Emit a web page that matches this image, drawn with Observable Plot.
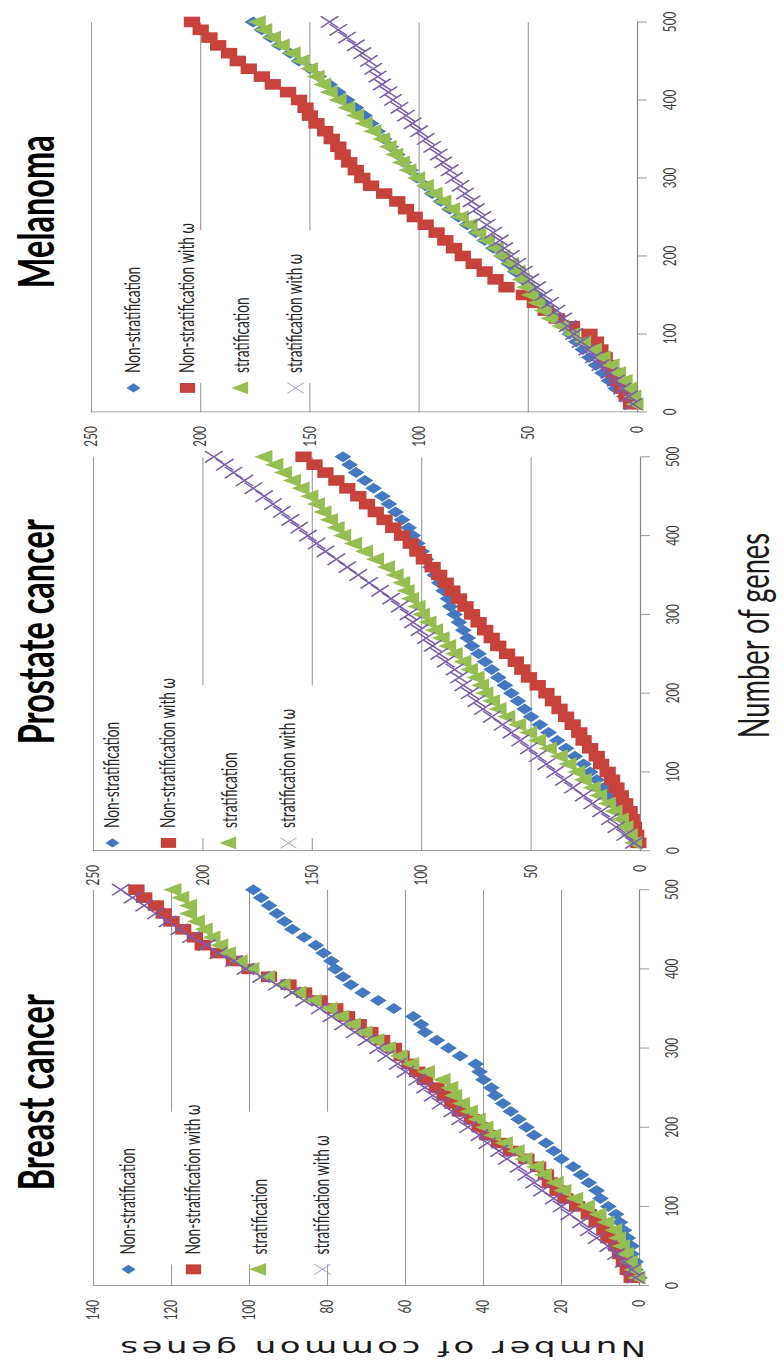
<!DOCTYPE html>
<html><head><meta charset="utf-8">
<script src="https://cdn.jsdelivr.net/npm/d3@7"></script>
<script src="https://cdn.jsdelivr.net/npm/@observablehq/plot@0.6"></script>
<style>
html,body{margin:0;padding:0;background:#fff;overflow:hidden;width:784px;height:1360px;}
#fig{position:absolute;left:0;top:0;width:2092px;height:784px;transform-origin:0 0;transform:matrix(0,-0.65,1,0,0,1360);}
#fig svg{position:absolute;left:0;top:0;}
[aria-label="x-axis tick"]{stroke:#868686;}
</style></head><body><div id="fig"></div>
<script>
// ---- data ----
const genes = [10,20,30,40,50,60,70,80,90,100,110,120,130,140,150,160,170,180,190,200,
  210,220,230,240,250,260,270,280,290,300,310,320,330,340,350,360,370,380,390,400,
  410,420,430,440,450,460,470,480,490,500];
const seriesNames = ["Non-stratification", "Non-stratification with \u03c9", "stratification", "stratification with \u03c9"];
const panelTitles = ["Breast cancer", "Prostate cancer", "Melanoma"];
const geneTicks = [0,100,200,300,400,500];
const breastTicks = [0,20,40,60,80,100,120,140];
const otherTicks = [0,50,100,150,200,250];
const xLabel = "Number of genes";
const yLabel = "Number of common genes";

const breastNon   = [0,1,1,2,2,3,4,5,6,8, 10,11,13,15,17,20,22,24,27,29, 31,33,35,37,38,40,41,42,46,49, 52,55,56,58,63,67,71,74,76,78, 79,81,83,86,89,91,93,95,97,99];
const breastNonW  = [2,3,4,5,6,8,9,11,13,16, 19,21,23,24,26,29,33,36,39,41, 43,46,48,50,52,55,57,59,61,63, 66,69,72,75,78,82,86,90,95,100, 104,108,112,114,117,120,122,124,127,129];
const breastStr   = [0,1,2,3,4,5,6,8,10,13, 16,19,21,24,26,29,31,34,37,39, 41,43,45,47,48,50,54,58,61,64, 67,70,73,76,79,83,87,91,95,99, 102,105,107,109,111,113,115,115,117,119];
const breastStrW  = [1,2,4,6,8,11,13,15,18,20, 22,25,27,29,31,34,36,39,41,44, 46,48,51,53,55,57,60,62,65,67, 70,73,76,79,82,86,89,93,97,101, 104,108,111,115,118,121,124,127,130,133];

const prostateNon  = [2,4,6,8,10,12,15,17,20,23, 26,30,34,38,42,46,50,53,56,59, 62,65,68,71,74,77,79,81,83,85, 87,88,90,92,94,96,98,100,102,104, 106,109,112,115,118,122,126,130,133,136];
const prostateNonW = [1,2,3,4,5,7,9,11,13,15, 18,20,23,26,28,31,34,37,40,43, 47,51,54,57,61,65,68,71,74,77, 80,83,86,89,92,95,99,102,105,109, 113,117,121,125,129,134,139,144,149,154];
const prostateStr  = [2,4,6,8,11,14,18,21,25,28, 32,36,41,46,50,55,60,64,67,70, 72,74,77,80,84,87,90,93,96,99, 101,104,106,108,111,115,120,125,130,135, 138,141,144,147,150,154,158,162,166,171];
const prostateStrW = [3,7,11,14,18,22,26,31,35,39, 43,47,51,55,59,63,68,72,75,78, 81,83,85,89,92,95,98,101,104,106, 110,114,119,124,129,134,139,144,148,152, 156,160,164,168,172,177,181,186,190,195];

const melanomaNon  = [2,6,10,13,16,19,22,25,28,31, 34,37,40,43,46,49,53,56,59,62, 66,70,74,78,82,86,90,94,97,101, 104,107,110,113,116,119,122,125,129,133, 137,141,146,150,155,159,164,168,172,176];
const melanomaNonW = [3,5,7,9,11,13,15,17,19,22, 30,37,42,47,52,60,65,70,75,80, 84,88,92,97,102,106,110,116,122,126, 129,132,135,137,140,143,147,150,152,155, 160,167,172,178,183,187,192,196,200,204];
const melanomaStr  = [0,1,3,5,8,11,15,19,24,29, 34,39,42,45,48,50,52,54,57,61, 64,68,72,76,80,84,88,92,96,100, 104,107,110,113,116,120,124,128,132,136, 140,143,146,149,153,157,162,166,170,173];
const melanomaStrW = [2,4,7,10,13,17,20,23,26,29, 32,34,37,40,43,46,49,52,55,58, 61,63,66,69,71,74,76,79,81,84, 86,89,91,94,97,100,103,106,109,112, 114,117,119,121,123,126,129,133,137,141];

// ---- styles / layout ----
const W = 2092, H = 784;
const dotStyles = [
  {symbol: "diamond2", r: 7.6, fill: "#4279c2", stroke: "none"},
  {symbol: "square", r: 9.2, fill: "#c8423c", stroke: "none"},
  {symbol: "triangle", r: 7.8, fill: "#96bf52", stroke: "none"},
  {symbol: "times", r: 8, fill: "none", stroke: "#7a5cae", strokeWidth: 2}
];
const legendStyles = [
  {symbol: "diamond2", r: 6.4, fill: "#4279c2", stroke: "none"},
  {symbol: "square", r: 8.6, fill: "#c8423c", stroke: "none"},
  {symbol: "triangle", r: 7.2, fill: "#96bf52", stroke: "none"},
  {symbol: "times", r: 7.4, fill: "none", stroke: "#a99bcc", strokeWidth: 1.2}
];

const panels = [
  {title: panelTitles[0], series: [breastNon, breastNonW, breastStr, breastStrW], yTicks: breastTicks,
   left: 114, right: 723, top: 93, bottom: 639, titleDx: -7, legend: {dx: 25, rows: [35, 100, 167, 229]}},
  {title: panelTitles[1], series: [prostateNon, prostateNonW, prostateStr, prostateStrW], yTicks: otherTicks,
   left: 783, right: 1389, top: 93, bottom: 640, titleDx: 34, legend: {dx: 12, rows: [19, 75, 137, 195]}},
  {title: panelTitles[2], series: [melanomaNon, melanomaNonW, melanomaStr, melanomaStrW], yTicks: otherTicks,
   left: 1458, right: 2058, top: 91, bottom: 637, titleDx: 8, legend: {dx: 37, rows: [42, 96, 151, 204]}}
];

const fig = document.getElementById("fig");
panels.forEach((p, pi) => {
  const L = p.legend;
  const marks = [
    Plot.ruleY(p.yTicks.slice(1), {stroke: "#9c9c9c", strokeWidth: 1.1}),
    (index, scales, values, dims) => d3.create("svg:rect")
      .attr("x", dims.marginLeft + L.dx + 8)
      .attr("y", dims.marginTop + L.rows[0] - 18)
      .attr("width", 235)
      .attr("height", L.rows[3] - L.rows[0] + 48)
      .attr("fill", "white").node(),
    Plot.ruleY([0], {stroke: "#868686", strokeWidth: 1.2}),
    Plot.ruleX([0], {stroke: "#868686", strokeWidth: 1.2})
  ];
  p.series.forEach((arr, si) => {
    const rows = genes.map((g, i) => ({g, v: arr[i]}));
    marks.push(Plot.dot(rows, {x: "g", y: "v", ...dotStyles[si]}));
  });
  seriesNames.forEach((name, si) => {
    marks.push(Plot.dot([name], {frameAnchor: "top-left", dx: L.dx, dy: L.rows[si], ...legendStyles[si]}));
    marks.push(Plot.text([name], {frameAnchor: "top-left", dx: L.dx + 23, dy: L.rows[si], text: d => d,
      textAnchor: "start", lineAnchor: "middle", fontSize: 21, fill: "#262626"}));
  });
  marks.push(Plot.text([p.title], {frameAnchor: "top", dx: p.titleDx, dy: 53 - p.top, text: d => d,
    lineAnchor: "bottom", fontSize: 50, fontWeight: "bold", fill: "#000"}));
  if (pi === 1) {
    marks.push(Plot.text([xLabel], {frameAnchor: "bottom", dx: 28, dy: 768 - p.bottom, text: d => d,
      lineAnchor: "bottom", fontSize: 42, fill: "#1a1a1a"}));
  }
  if (pi === 0) {
    marks.push(Plot.text([yLabel], {frameAnchor: "left", dx: 28 - p.left, dy: 15, text: d => d, rotate: -90,
      lineAnchor: "bottom", textAnchor: "middle", fontSize: 34, fontFamily: "DejaVu Sans", fill: "#1a1a1a"}));
  }
  const chart = Plot.plot({
    width: W, height: H,
    marginLeft: p.left, marginRight: W - p.right, marginTop: p.top, marginBottom: H - p.bottom,
    x: {domain: [0, 500], ticks: geneTicks, tickSize: 10, tickPadding: 16, label: null},
    y: {domain: [0, p.yTicks[p.yTicks.length - 1]], ticks: p.yTicks, tickSize: 0, tickPadding: 22, label: null},
    style: {background: "transparent", overflow: "visible", fontFamily: "Lato, sans-serif", fontSize: "18px", color: "#404040"},
    marks
  });
  chart.querySelectorAll("text").forEach(t => {
    if (t.textContent === yLabel) t.style.letterSpacing = "3.5px";
  });
  fig.appendChild(chart);
});
</script>
</body></html>
